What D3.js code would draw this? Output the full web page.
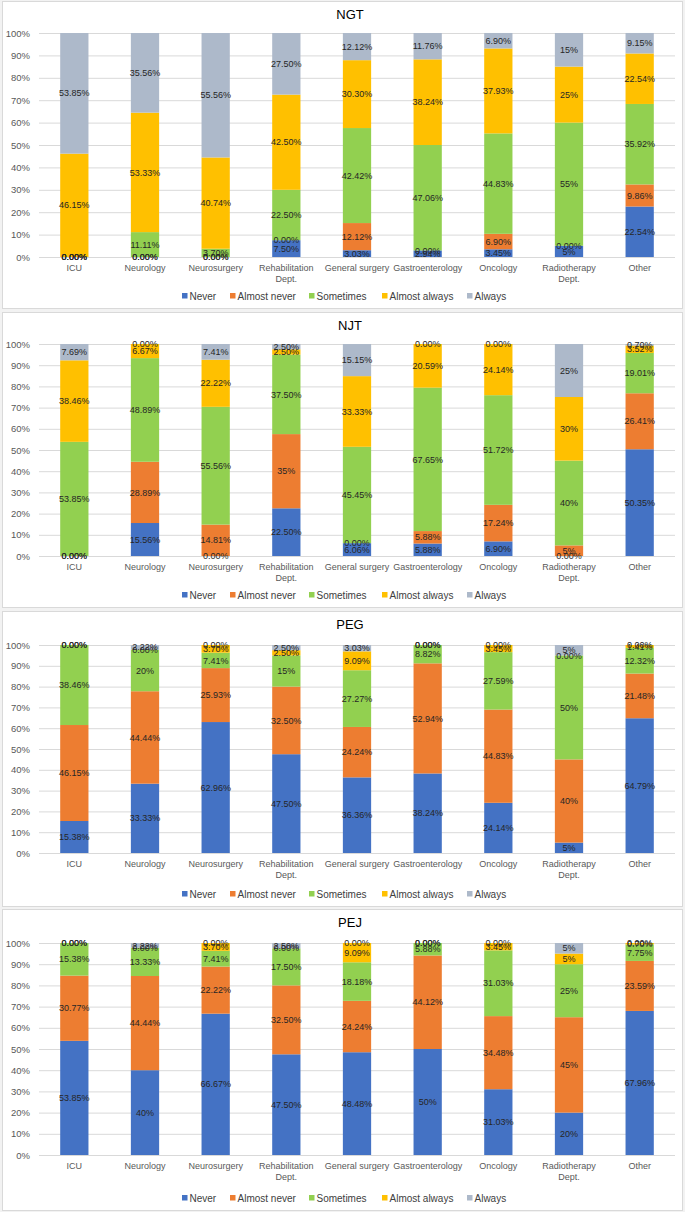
<!DOCTYPE html>
<html>
<head>
<meta charset="utf-8">
<script src="https://cdn.jsdelivr.net/npm/d3@7"></script>
<style>
  body { margin: 0; background: #fff; }
  text { font-family: "Liberation Sans", Arial, sans-serif; }
</style>
</head>
<body>
<svg id="chart" width="685" height="1212"></svg>
<script>
// departments (x axis)
var departments = ["ICU", "Neurology", "Neurosurgery", "Rehabilitation Dept.", "General surgery",
  "Gastroenterology", "Oncology", "Radiotherapy Dept.", "Other"];
var tickLabels = [["ICU"], ["Neurology"], ["Neurosurgery"], ["Rehabilitation", "Dept."], ["General surgery"],
  ["Gastroenterology"], ["Oncology"], ["Radiotherapy", "Dept."], ["Other"]];
var seriesNames = ["Never", "Almost never", "Sometimes", "Almost always", "Always"];
var seriesColors = ["#4472C4", "#ED7D31", "#92D050", "#FFC000", "#ADB9CA"];
var yTicks = [0, 10, 20, 30, 40, 50, 60, 70, 80, 90, 100];

// one row per department: Never, Almost never, Sometimes, Almost always, Always (%)
var ngtValues = [
  [0, 0, 0, 46.15, 53.85],
  [0, 0, 11.11, 53.33, 35.56],
  [0, 0, 3.70, 40.74, 55.56],
  [7.50, 0, 22.50, 42.50, 27.50],
  [3.03, 12.12, 42.42, 30.30, 12.12],
  [2.94, 0, 47.06, 38.24, 11.76],
  [3.45, 6.90, 44.83, 37.93, 6.90],
  [5, 0, 55, 25, 15],
  [22.54, 9.86, 35.92, 22.54, 9.15]
];
var njtValues = [
  [0, 0, 53.85, 38.46, 7.69],
  [15.56, 28.89, 48.89, 6.67, 0],
  [0, 14.81, 55.56, 22.22, 7.41],
  [22.50, 35, 37.50, 2.50, 2.50],
  [6.06, 0, 45.45, 33.33, 15.15],
  [5.88, 5.88, 67.65, 20.59, 0],
  [6.90, 17.24, 51.72, 24.14, 0],
  [0, 5, 40, 30, 25],
  [50.35, 26.41, 19.01, 3.52, 0.70]
];
var pegValues = [
  [15.38, 46.15, 38.46, 0, 0],
  [33.33, 44.44, 20, 0, 2.22],
  [62.96, 25.93, 7.41, 3.70, 0],
  [47.50, 32.50, 15, 2.50, 2.50],
  [36.36, 24.24, 27.27, 9.09, 3.03],
  [38.24, 52.94, 8.82, 0, 0],
  [24.14, 44.83, 27.59, 3.45, 0],
  [5, 40, 50, 0, 5],
  [64.79, 21.48, 12.32, 1.41, 0]
];
var pejValues = [
  [53.85, 30.77, 15.38, 0, 0],
  [40, 44.44, 13.33, 0, 2.22],
  [66.67, 22.22, 7.41, 3.70, 0],
  [47.50, 32.50, 17.50, 0, 2.50],
  [48.48, 24.24, 18.18, 9.09, 0],
  [50, 44.12, 5.88, 0, 0],
  [31.03, 34.48, 31.03, 3.45, 0],
  [20, 45, 25, 5, 5],
  [67.96, 23.59, 7.75, 0.70, 0]
];

// panel boxes on the page
var panels = [
  { title: "NGT", values: ngtValues, top: 1, plotTop: 33, plotBottom: 257, bottom: 308 },
  { title: "NJT", values: njtValues, top: 312, plotTop: 344, plotBottom: 556, bottom: 607 },
  { title: "PEG", values: pegValues, top: 611, plotTop: 645, plotBottom: 853, bottom: 906 },
  { title: "PEJ", values: pejValues, top: 909, plotTop: 943, plotBottom: 1155, bottom: 1210 }
];

var svg = d3.select("#chart");
svg.append("rect").attr("width", 685).attr("height", 1212).attr("fill", "#f2f2f2");

var x = d3.scaleBand().domain(departments).range([39, 675]).paddingInner(0.6).paddingOuter(0.3);

function fmt(v) {
  if (v === 0) return "0.00%";
  if (Number.isInteger(v)) return v + "%";
  return v.toFixed(2) + "%";
}

function drawPanel(p) {
  var g = svg.append("g");
  g.append("rect")
    .attr("x", 2.5).attr("y", p.top + 0.5)
    .attr("width", 680).attr("height", p.bottom - p.top)
    .attr("fill", "#fff").attr("stroke", "#d9d9d9");

  g.append("text")
    .attr("x", 350).attr("y", p.top + 18)
    .attr("text-anchor", "middle")
    .attr("font-size", 13).attr("fill", "#000")
    .text(p.title);

  var y = d3.scaleLinear().domain([0, 100]).range([p.plotBottom, p.plotTop]);

  // gridlines + y labels
  var yAxis = d3.axisLeft(y).tickValues(yTicks).tickSize(-(675 - 39)).tickFormat(d => d + "%");
  var ya = g.append("g").attr("transform", "translate(39,0)").call(yAxis);
  ya.select(".domain").remove();
  ya.selectAll("line").attr("stroke", "#d9d9d9");
  ya.selectAll("text").attr("x", -9).attr("font-size", 9.5).attr("fill", "#595959")
    .attr("font-family", "Liberation Sans, Arial, sans-serif");

  // stack
  var rows = p.values.map(function (r, i) {
    var o = { dept: departments[i] };
    seriesNames.forEach(function (s, j) { o[s] = r[j]; });
    return o;
  });
  var stacked = d3.stack().keys(seriesNames)(rows);

  var layers = g.selectAll(".layer").data(stacked).enter().append("g")
    .attr("fill", (d, i) => seriesColors[i]);
  layers.selectAll("rect").data(d => d).enter().append("rect")
    .attr("x", d => x(d.data.dept))
    .attr("width", x.bandwidth())
    .attr("y", d => y(d[1]))
    .attr("height", d => y(d[0]) - y(d[1]));

  // data labels
  var labels = g.append("g");
  stacked.forEach(function (layer) {
    layer.forEach(function (d) {
      labels.append("text")
        .attr("x", x(d.data.dept) + x.bandwidth() / 2)
        .attr("y", y((d[0] + d[1]) / 2))
        .attr("dy", "0.35em")
        .attr("text-anchor", "middle")
        .attr("font-size", 9)
        .attr("fill", "#262626")
        .text(fmt(d[1] - d[0] < 0.005 ? 0 : +(d[1] - d[0]).toFixed(2)));
    });
  });

  // x labels
  var xl = g.append("g");
  departments.forEach(function (dep, i) {
    var t = xl.append("text")
      .attr("x", x(dep) + x.bandwidth() / 2)
      .attr("y", p.plotBottom + 14)
      .attr("text-anchor", "middle")
      .attr("font-size", 9).attr("fill", "#595959");
    tickLabels[i].forEach(function (line, k) {
      t.append("tspan").attr("x", x(dep) + x.bandwidth() / 2).attr("dy", k === 0 ? 0 : 11).text(line);
    });
  });

  // legend
  var lx = [182, 230, 309, 382, 467];
  var leg = g.append("g").attr("transform", "translate(0," + (p.bottom - 12) + ")");
  seriesNames.forEach(function (s, i) {
    leg.append("rect").attr("x", lx[i]).attr("y", -3).attr("width", 5.5).attr("height", 5.5).attr("fill", seriesColors[i]);
    leg.append("text").attr("x", lx[i] + 7.5).attr("y", 0).attr("dy", "0.35em")
      .attr("font-size", 10).attr("fill", "#404040").text(s);
  });
}

panels.forEach(drawPanel);
</script>
</body>
</html>
